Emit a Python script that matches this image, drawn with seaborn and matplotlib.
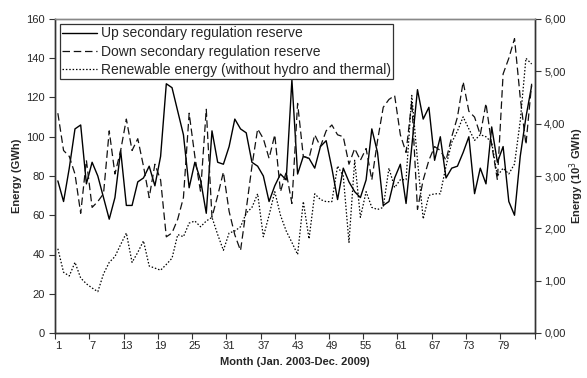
import numpy as np
import pandas as pd
import matplotlib
matplotlib.use("Agg")
import matplotlib.pyplot as plt
from matplotlib.ticker import FixedLocator, FuncFormatter
import seaborn as sns

months = list(range(1, 85))

up_reserve = [77.5, 67, 84, 104, 106, 76, 87, 80, 69, 58, 69, 93, 65, 65, 77, 79, 85, 75, 90, 127,
              125, 113, 101, 74, 87, 78, 61, 103, 87, 86, 95, 109, 104, 102, 87, 85, 80, 67, 75, 81,
              78, 129, 81, 90, 89, 84, 95, 98, 84, 68, 84, 77, 72, 69, 78, 104, 92, 65, 67, 79,
              86, 66, 95, 124, 109, 115, 88, 100, 79, 84, 85, 92, 100, 71, 84, 76, 105, 87, 95, 67,
              60, 90, 110, 126]

down_reserve = [112, 93, 90, 81, 61, 88, 64, 67, 71, 103, 81, 93, 109, 93, 99, 85, 69, 86, 78, 49,
                51, 58, 69, 112, 90, 72, 114, 59, 70, 82, 62, 50, 42, 63, 85, 104, 99, 89, 101, 72,
                82, 66, 117, 90, 89, 101, 95, 103, 106, 101, 100, 86, 94, 88, 94, 78, 98, 115, 119, 121,
                101, 92, 118, 63, 78, 88, 95, 93, 88, 100, 110, 128, 113, 110, 101, 117, 96, 78, 132, 140,
                150, 120, 96, 127]

renewable = [1.61, 1.16, 1.09, 1.35, 1.05, 0.94, 0.86, 0.79, 1.13, 1.35, 1.46, 1.69, 1.91, 1.35, 1.54,
             1.76, 1.28, 1.24, 1.20, 1.31, 1.43, 1.88, 1.84, 2.10, 2.14, 2.03, 2.14, 2.21, 1.88, 1.58,
             1.91, 1.95, 2.03, 2.29, 2.40, 2.66, 1.84, 2.25, 2.70, 2.25, 1.95, 1.73, 1.50, 2.51, 1.80,
             2.66, 2.55, 2.51, 2.51, 3.19, 3.00, 1.73, 3.30, 2.21, 2.70, 2.40, 2.36, 2.40, 3.15, 2.78,
             2.93, 2.93, 4.54, 3.30, 2.18, 2.63, 2.66, 2.66, 3.19, 3.64, 3.86, 4.13, 3.90, 3.68, 3.79,
             3.75, 3.64, 3.00, 3.15, 3.04, 3.23, 4.05, 5.25, 5.14]

labels = ["Up secondary regulation reserve",
          "Down secondary regulation reserve",
          "Renewable energy (without hydro and thermal)"]
x_tick_labels = [str(m) for m in range(1, 80, 6)]

sns.set_style("ticks")
plt.rcParams['font.family'] = ['Liberation Sans', 'DejaVu Sans']

df = pd.DataFrame({"month": months, "up": up_reserve, "down": down_reserve, "ren": renewable})

fig = plt.figure(figsize=(5.87, 3.78), dpi=100)
ax = fig.add_axes([55/587, 1-333/378, (534.5-55)/587, (333-19)/378])
ax2 = ax.twinx()

sns.lineplot(data=df, x="month", y="up", ax=ax, color="black", lw=1.0, label=labels[0], legend=False)
sns.lineplot(data=df, x="month", y="down", ax=ax, color="#111111", lw=0.9, label=labels[1], legend=False)
ax.lines[1].set_dashes([6, 3])
sns.lineplot(data=df, x="month", y="ren", ax=ax2, color="black", lw=0.9, label=labels[2], legend=False)
ax2.lines[0].set_dashes([1.2, 1.5])

ax.set_xlim(0.5, 84.5)
ax.set_ylim(0, 160)
ax2.set_ylim(0, 6)
ax.set_yticks(np.arange(0, 161, 20))
ax2.set_yticks(np.arange(0, 7, 1))
ax2.yaxis.set_major_formatter(FuncFormatter(lambda v, p: f"{v:.2f}".replace(".", ",")))

ax.xaxis.set_major_locator(FixedLocator(np.arange(0.5, 85, 6)))
ax.xaxis.set_minor_locator(FixedLocator(np.arange(1, 80, 6)))
ax.set_xticklabels([], minor=False)
ax.set_xticklabels(x_tick_labels, minor=True)
ax.tick_params(axis='x', which='minor', length=0, labelsize=8, pad=6)
ax.tick_params(axis='x', which='major', length=4, width=0.8, color='#333333')
ax.tick_params(axis='y', length=4, width=0.8, labelsize=8, color='#333333')
ax2.tick_params(axis='y', length=4, width=0.8, labelsize=8, color='#333333', pad=3)

for a in (ax, ax2):
    for s in a.spines.values():
        s.set_visible(True)
        s.set_linewidth(1.0)
        s.set_color('#333333')
ax.spines['top'].set_color('#888888')
ax2.spines['top'].set_color('#888888')

ax.set_xlabel("Month (Jan. 2003-Dec. 2009)", fontsize=8, fontweight='bold', labelpad=4)
ax.set_ylabel("Energy (GWh)", fontsize=8, fontweight='bold', labelpad=3)
ax2.set_ylabel("Energy (10$^3$ GWh)", fontsize=8, fontweight='bold', labelpad=1)

handles = ax.lines[:2] + ax2.lines[:1]
leg = ax2.legend(handles, labels, loc='upper left', bbox_to_anchor=(0.004, 0.992),
                 fontsize=10, frameon=True, fancybox=False, handlelength=2.5,
                 handletextpad=0.3, borderpad=0.15, labelspacing=0.3, borderaxespad=0.2)
leg.get_frame().set_edgecolor('#333333')
leg.get_frame().set_linewidth(0.9)
leg.get_frame().set_facecolor('white')
leg.get_frame().set_alpha(1)

fig.savefig("out.png", dpi=100)
